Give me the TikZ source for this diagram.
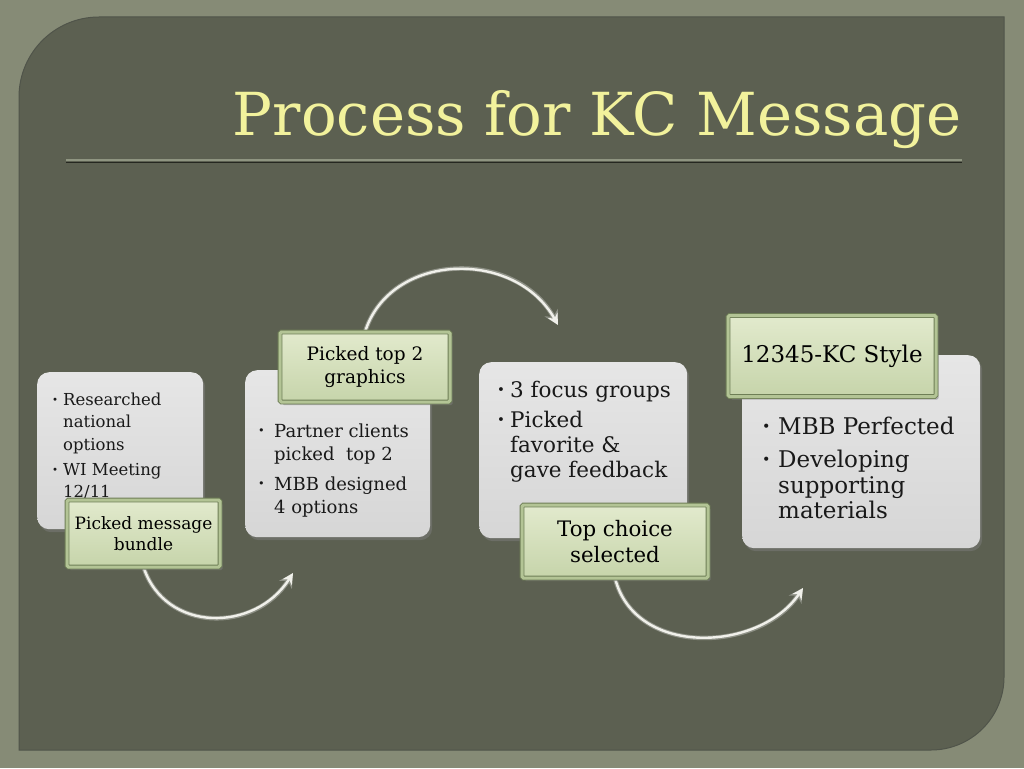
\documentclass[tikz,border=0pt]{standalone}
\usepackage{fontspec}
\setmainfont{DejaVu Serif}
\usetikzlibrary{arrows.meta,shadows}
\definecolor{outerbg}{HTML}{868B76}
\definecolor{panelbg}{HTML}{5C6051}
\definecolor{paneledge}{HTML}{50544A}
\definecolor{titlecol}{HTML}{F2F29C}
\definecolor{rulecol}{HTML}{8F9581}
\definecolor{grytop}{HTML}{E6E6E6}
\definecolor{grybot}{HTML}{D6D6D6}
\definecolor{grntop}{HTML}{E2EACD}
\definecolor{grnbot}{HTML}{C6D4AA}
\definecolor{grnframe}{HTML}{B3C495}
\definecolor{grnedge}{HTML}{6E7E56}
\definecolor{arrowdark}{HTML}{8E9186}
\definecolor{arrowlight}{HTML}{F0F0EA}
\tikzset{
  graybox/.style={rectangle, rounded corners=12pt, top color=grytop, bottom color=grybot, draw=none,
    anchor=north west, inner sep=0pt,
    drop shadow={opacity=0.45, shadow xshift=2pt, shadow yshift=-3pt}},
  greenbox/.style={rectangle, rounded corners=1.5pt, draw=grnedge, double=grnframe, double distance=3pt,
    line width=0.9pt, top color=grntop, bottom color=grnbot, align=center, text=black, inner sep=0pt,
    drop shadow={opacity=0.5, shadow xshift=2.5pt, shadow yshift=-3pt}},
  bodytxt/.style={anchor=base west, inner sep=0pt, text=black!90},
  arrowout/.style={line width=4.5pt, draw=arrowdark, -{Stealth[length=14pt, width=15pt]}},
  arrowin/.style={line width=2.4pt, draw=arrowlight, -{Stealth[length=11pt, width=11pt]}},
  titletxt/.style={anchor=base east, inner sep=0pt, font=\fontsize{59.3}{60}\selectfont}
}
\newcommand\bl[1]{\makebox[#1][l]{\raisebox{0.12em}{\scalebox{0.62}{•}}}}
\begin{document}
\begin{tikzpicture}[x=1pt,y=-1pt]
\useasboundingbox (0,0) rectangle (1024,768);
\fill[outerbg] (0,0) rectangle (1024,768);
% panel
\fill[panelbg, draw=paneledge, line width=1pt] (19,97) .. controls (19,52.8) and (54.8,17) .. (99,17) -- (1004,17) -- (1004,677) .. controls (1004,717.3) and (971.3,750) .. (931,750) -- (19,750) -- cycle;
% title
\node[titletxt, text=titlecol] (title) at (962,135) {Process for KC Message};
\coordinate (rulel) at (66,160);
\coordinate (ruler) at (962,160);
\draw[black!60!panelbg, line width=1pt] ([yshift=-2pt]rulel) -- ([yshift=-2pt]ruler);
\draw[rulecol, line width=2.2pt] (rulel) -- (ruler);

% step 1
\node[graybox, minimum width=166pt, minimum height=157pt] (b1) at (37,372) {};
\node[bodytxt] (t1) at (52,405) {\fontsize{16.5}{22.5}\selectfont\begin{tabular}[t]{@{}l@{}l@{}}
\bl{11pt}&Researched\\ &national\\ &options\\[2.5pt] \bl{11pt}&WI Meeting\\ &12/11\end{tabular}};
% step 2
\node[graybox, minimum width=185pt, minimum height=167pt] (b2) at (245,370) {};
\node[bodytxt] (t2) at (258,437) {\fontsize{18}{23}\selectfont\begin{tabular}[t]{@{}l@{}l@{}}
\bl{16pt}&Partner clients\\ &picked\ \ top 2\\[7pt] \bl{16pt}&MBB designed\\ &4 options\end{tabular}};
% step 3
\node[graybox, minimum width=208pt, minimum height=176pt] (b3) at (479,362) {};
\node[bodytxt] (t3) at (497,397) {\fontsize{21.5}{25}\selectfont\begin{tabular}[t]{@{}l@{}l@{}}
\bl{13pt}&3 focus groups\\[5pt] \bl{13pt}&Picked\\ &favorite \&\\ &gave feedback\end{tabular}};
% step 4
\node[graybox, minimum width=238pt, minimum height=193pt] (b4) at (742,355) {};
\node[bodytxt] (t4) at (762,434) {\fontsize{23}{25.5}\selectfont\begin{tabular}[t]{@{}l@{}l@{}}
\bl{16pt}&MBB Perfected\\[8pt] \bl{16pt}&Developing\\ &supporting\\ &materials\end{tabular}};

% arrows
\coordinate (e1) at (293,573);
\coordinate (e2) at (558,325);
\coordinate (e3) at (803,588);
\path (143.5,567) coordinate (s1) (365,332) coordinate (s2) (615,578) coordinate (s3);
\draw[arrowout] (s1) .. controls (165,633) and (255,633) .. (e1);
\draw[arrowin] (s1) .. controls (165,633) and (255,633) .. (e1);
\draw[arrowout] (s2) .. controls (390,252) and (515,248) .. (e2);
\draw[arrowin] (s2) .. controls (390,252) and (515,248) .. (e2);
\draw[arrowout] (s3) .. controls (635,658) and (760,652) .. (e3);
\draw[arrowin] (s3) .. controls (635,658) and (760,652) .. (e3);

% green labels
\node[greenbox, minimum width=153pt, minimum height=67pt, font=\fontsize{17}{21}\selectfont] (g1) at (143.5,533.5) {Picked message\\bundle};
\node[greenbox, minimum width=170pt, minimum height=70pt, font=\fontsize{18.5}{23}\selectfont] (g2) at (365,367) {Picked top 2\\graphics};
\node[greenbox, minimum width=186pt, minimum height=73pt, font=\fontsize{21.3}{26}\selectfont] (g3) at (615,541.5) {Top choice\\selected};
\node[greenbox, minimum width=208pt, minimum height=81pt, font=\fontsize{23}{27}\selectfont] (g4) at (832,356) {12345-KC Style};
\end{tikzpicture}
\end{document}
